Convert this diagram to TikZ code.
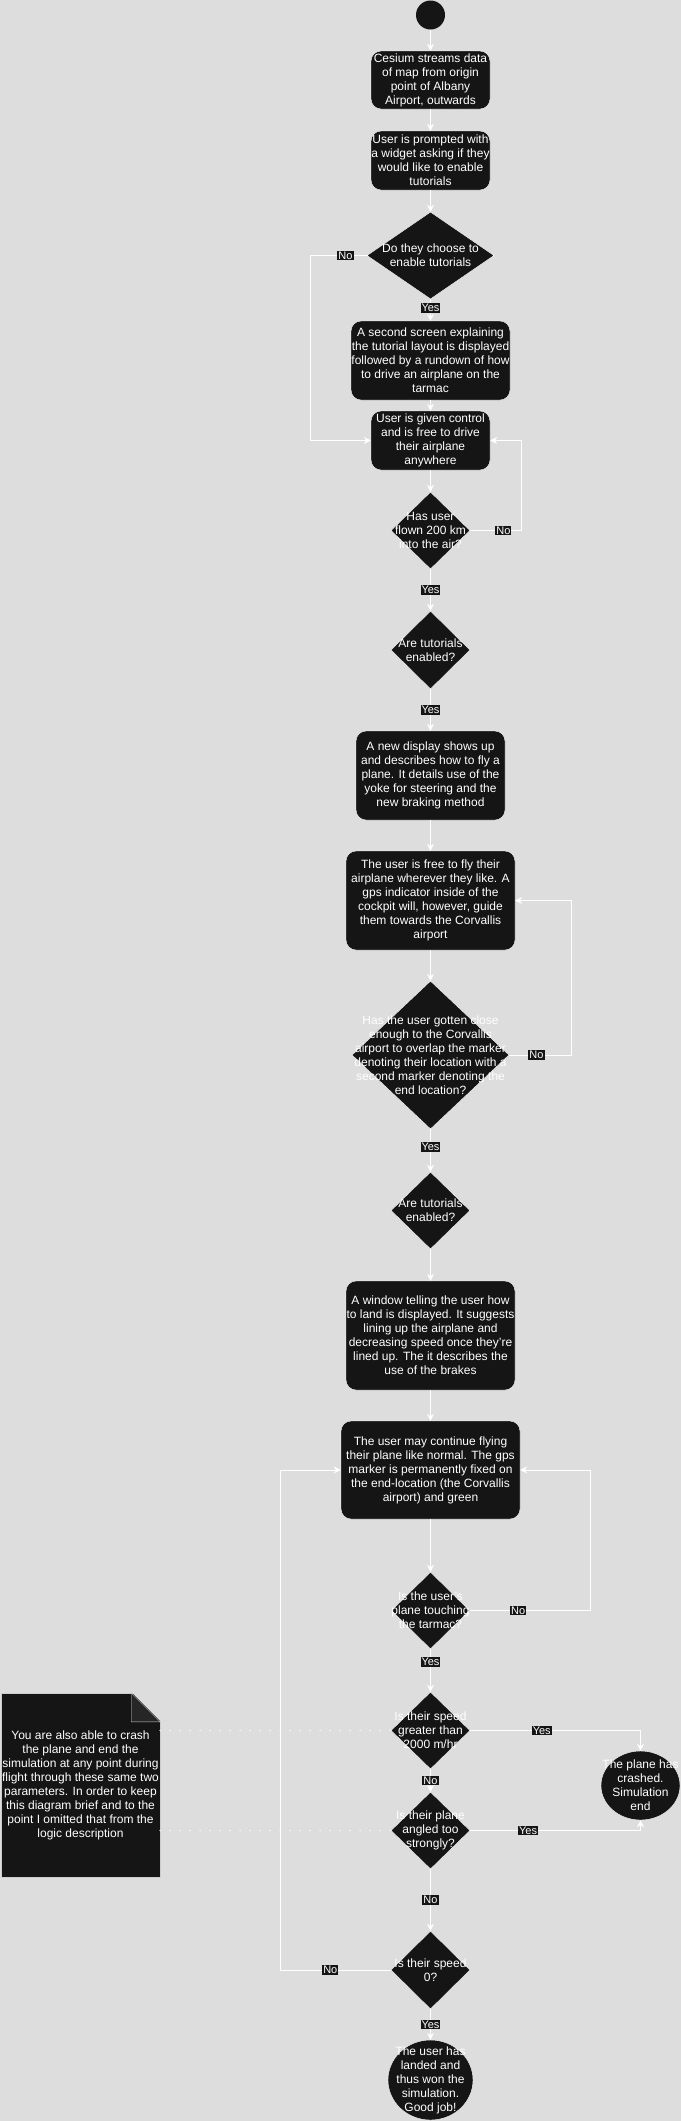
\documentclass[tikz,border=0pt]{standalone}
\usepackage{fontspec}
\setmainfont{Liberation Sans}
\usetikzlibrary{shapes.geometric,arrows.meta}
\definecolor{bgcol}{HTML}{DDDDDD}
\definecolor{nodefill}{HTML}{151515}
\definecolor{foldcol}{HTML}{262626}
\tikzset{
  stepbox/.style={rectangle,rounded corners=10pt,draw=white,fill=nodefill,text=white,align=center,inner sep=0pt,font=\fontsize{12}{14}\selectfont},
  decision/.style={diamond,draw=white,fill=nodefill,inner sep=0pt},
  dtext/.style={text=white,align=center,inner sep=0pt,font=\fontsize{12}{14}\selectfont},
  terminal/.style={ellipse,draw=white,fill=nodefill,inner sep=0pt},
  lbl/.style={fill=nodefill,text=white,inner sep=1pt,font=\fontsize{11}{12}\selectfont},
  flow/.style={->,draw=white,line width=1pt},
  dotline/.style={draw=white,line width=1.5pt,line cap=round,dash pattern=on 0pt off 10pt}
}
\begin{document}
\begin{tikzpicture}[x=1pt,y=-1pt,>={Stealth[length=7pt,width=7pt]}]
   \fill[bgcol] (0,0) rectangle (681,2121);
   \useasboundingbox (0,0) rectangle (681,2121);

   \node[terminal,draw=none,minimum size=29pt] (start) at (430.5,15) {};
   \node[stepbox,minimum width=119pt,minimum height=58pt] (b1) at (430.5,80) {Cesium streams data\\of map from origin\\point of Albany\\Airport, outwards};
   \node[stepbox,minimum width=119pt,minimum height=59pt] (b2) at (430.5,160.5) {User is prompted with\\a widget asking if they\\would like to enable\\tutorials};
   \node[decision,minimum width=127pt,minimum height=87pt,label={[dtext]center:{Do they choose to\\enable tutorials}}] (d1) at (430.5,255.5) {};
   \node[stepbox,minimum width=159pt,minimum height=79pt] (b3) at (430.5,360.5) {A second screen explaining\\the tutorial layout is displayed\\followed by a rundown of how\\to drive an airplane on the\\tarmac};
   \node[stepbox,minimum width=119pt,minimum height=59pt] (b4) at (430.5,440.5) {User is given control\\and is free to drive\\their airplane\\anywhere};
   \node[decision,minimum width=79pt,minimum height=77pt,label={[dtext]center:{Has user\\flown 200 km\\into the air?}}] (d2) at (430.5,530.5) {};
   \node[decision,minimum width=79pt,minimum height=78pt,label={[dtext]center:{Are tutorials\\enabled?}}] (d3) at (430.5,650) {};
   \node[stepbox,minimum width=149pt,minimum height=89pt] (b5) at (430.5,775.5) {A new display shows up\\and describes how to fly a\\plane. It details use of the\\yoke for steering and the\\new braking method};
   \node[stepbox,minimum width=169pt,minimum height=99pt] (b6) at (430.5,900.5) {The user is free to fly their\\airplane wherever they like. A\\gps indicator inside of the\\cockpit will, however, guide\\them towards the Corvallis\\airport};
   \node[decision,minimum width=157pt,minimum height=148pt,label={[dtext]center:{Has the user gotten close\\enough to the Corvallis\\airport to overlap the marker\\denoting their location with a\\second marker denoting the\\end location?}}] (d4) at (430.5,1055) {};
   \node[decision,minimum width=79pt,minimum height=77pt,label={[dtext]center:{Are tutorials\\enabled?}}] (d5) at (430.5,1210.5) {};
   \node[stepbox,minimum width=169pt,minimum height=109pt] (b7) at (430.5,1335.5) {A window telling the user how\\to land is displayed. It suggests\\lining up the airplane and\\decreasing speed once they're\\lined up. The it describes the\\use of the brakes};
   \node[stepbox,minimum width=179pt,minimum height=98pt] (b8) at (430.5,1470) {The user may continue flying\\their plane like normal. The gps\\marker is permanently fixed on\\the end-location (the Corvallis\\airport) and green};
   \node[decision,minimum width=78pt,minimum height=77pt,label={[dtext]center:{Is the user's\\plane touching\\the tarmac?}}] (d6) at (430.5,1610.5) {};
   \node[decision,minimum width=79pt,minimum height=77pt,label={[dtext]center:{Is their speed\\greater than\\2000 m/hr}}] (d7) at (430.5,1730.5) {};
   \node[decision,minimum width=79pt,minimum height=77pt,label={[dtext]center:{Is their plane\\angled too\\strongly?}}] (d8) at (430.5,1830.5) {};
   \node[decision,minimum width=79pt,minimum height=78pt,label={[dtext]center:{Is their speed\\0?}}] (d9) at (430.5,1970) {};
   \node[terminal,minimum width=79pt,minimum height=69pt,label={[dtext]center:{The plane has\\crashed.\\Simulation\\end}}] (crash) at (640.5,1785.5) {};
   \node[terminal,minimum width=85pt,minimum height=80pt,label={[dtext]center:{The user has\\landed and\\thus won the\\simulation.\\Good job!}}] (end) at (430.5,2080) {};

   % note with folded corner
   \node[stepbox,rounded corners=0pt,draw=white!80!black,minimum width=159pt,minimum height=184pt] (note) at (80.5,1785) {You are also able to crash\\the plane and end the\\simulation at any point during\\flight through these same two\\parameters. In order to keep\\this diagram brief and to the\\point I omitted that from the\\logic description};
   \fill[bgcol] ([xshift=-29pt,yshift=1pt]note.north east) -- ([xshift=1pt,yshift=1pt]note.north east) -- ([xshift=1pt,yshift=-29pt]note.north east) -- cycle;
   \filldraw[fill=foldcol,draw=white!80!black] ([xshift=-29pt]note.north east) |- ([yshift=-29pt]note.north east) -- cycle;

   \draw[flow] (start) -- (b1);
   \draw[flow] (b1) -- (b2);
   \draw[flow] (b2) -- (d1);
   \draw[flow] (d1) -- node[lbl,pos=.4]{Yes} (b3);
   \draw[flow] (d1.west) -- node[lbl,pos=.38]{No} ++(-56,0) |- (b4.west);
   \draw[flow] (b3) -- (b4);
   \draw[flow] (b4) -- (d2);
   \draw[flow] (d2.east) -- node[lbl,pos=.65]{No} ++(51,0) |- (b4.east);
   \draw[flow] (d2) -- node[lbl]{Yes} (d3);
   \draw[flow] (d3) -- node[lbl]{Yes} (b5);
   \draw[flow] (b5) -- (b6);
   \draw[flow] (b6) -- (d4);
   \draw[flow] (d4.east) -- node[lbl,pos=.44]{No} ++(62,0) |- (b6.east);
   \draw[flow] (d4) -- node[lbl,pos=.42]{Yes} (d5);
   \draw[flow] (d5) -- (b7);
   \draw[flow] (b7) -- (b8);
   \draw[flow] (b8) -- (d6);
   \draw[flow] (d6.east) -- node[lbl,pos=.4]{No} ++(121,0) |- (b8.east);
   \draw[flow] (d6) -- node[lbl,pos=.3]{Yes} (d7);
   \draw[flow] (d7.east) -| node[lbl,pos=.21]{Yes} (crash.north);
   \draw[flow] (d7) -- node[lbl]{No} (d8);
   \draw[flow] (d8.east) -| node[lbl,pos=.17]{Yes} (crash.south);
   \draw[flow] (d8) -- node[lbl]{No} (d9);
   \draw[flow] (d9.west) -- node[lbl,pos=.55]{No} ++(-110,0) |- (b8.west);
   \draw[flow] (d9) -- node[lbl]{Yes} (end);
   \draw[dotline] (note.east |- d7) -- (d7.west);
   \draw[dotline] (note.east |- d8) -- (d8.west);

\end{tikzpicture}
\end{document}
